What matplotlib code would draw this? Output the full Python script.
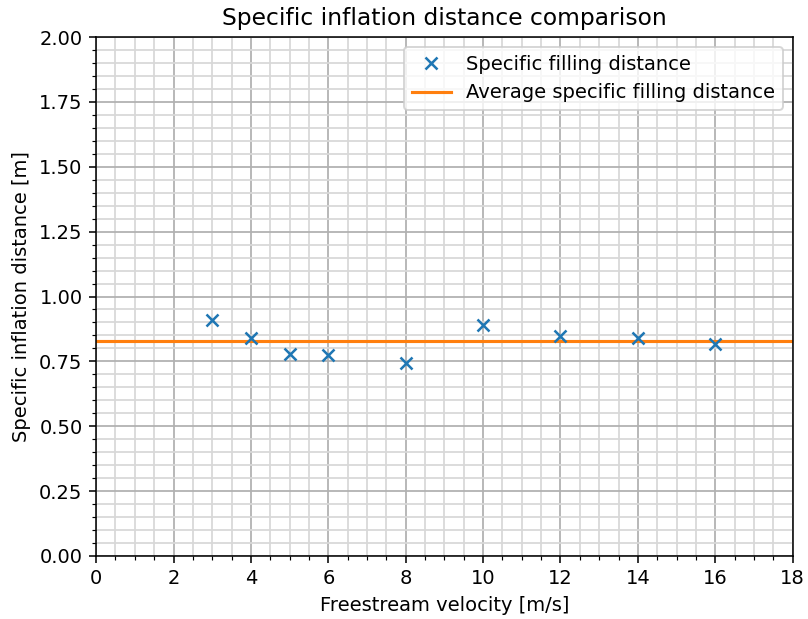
import numpy as np
import matplotlib.pyplot as plt
from matplotlib.ticker import MultipleLocator

# freestream velocities and measured specific filling distances
velocity = [3, 4, 5, 6, 8, 10, 12, 14, 16]
distance = [0.91, 0.84, 0.78, 0.775, 0.745, 0.89, 0.848, 0.84, 0.818]

avg = np.mean(distance)

DPI = 140
fig, ax = plt.subplots(figsize=(808 / DPI, 619 / DPI), dpi=DPI)
fig.subplots_adjust(left=0.119, right=0.981, top=0.940, bottom=0.102)

ax.plot(velocity, distance, 'x', markersize=6.5, markeredgewidth=1.3,
        label='Specific filling distance', zorder=3)
ax.axhline(avg, color='C1', linewidth=1.6, label='Average specific filling distance', zorder=2)

ax.set_xlim(0, 18)
ax.set_ylim(0, 2)
ax.xaxis.set_major_locator(MultipleLocator(2))
ax.xaxis.set_minor_locator(MultipleLocator(0.5))
ax.yaxis.set_major_locator(MultipleLocator(0.25))
ax.yaxis.set_minor_locator(MultipleLocator(0.05))
ax.grid(which='major', color='#b0b0b0', linewidth=0.9)
ax.grid(which='minor', color='#d8d8d8', linewidth=0.9)
ax.set_axisbelow(True)

ax.set_title('Specific inflation distance comparison')
ax.set_xlabel('Freestream velocity [m/s]')
ax.set_ylabel('Specific inflation distance [m]')
ax.legend(loc='upper right')

fig.savefig('out.png', dpi=DPI)
